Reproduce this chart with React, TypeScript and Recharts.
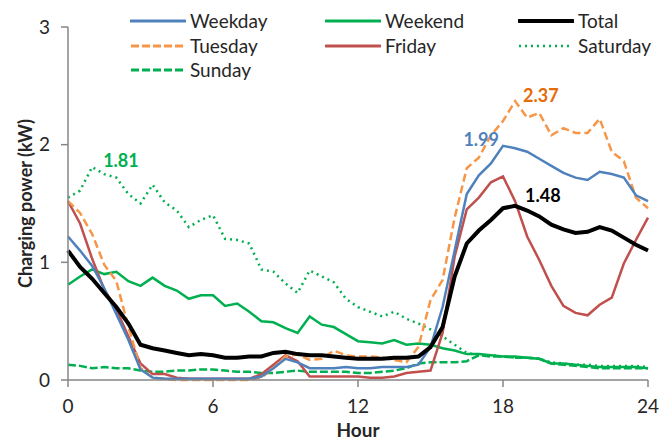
import { LineChart, Line, XAxis, YAxis, Label } from "recharts"

const FONT = "Lato, 'Liberation Sans', sans-serif"

// half-hour sampling across the day
const hours = [
  0, 0.5, 1, 1.5, 2, 2.5, 3, 3.5, 4, 4.5, 5, 5.5, 6, 6.5, 7, 7.5, 8, 8.5, 9, 9.5, 10, 10.5, 11, 11.5,
  12, 12.5, 13, 13.5, 14, 14.5, 15, 15.5, 16, 16.5, 17, 17.5, 18, 18.5, 19, 19.5, 20, 20.5, 21, 21.5,
  22, 22.5, 23, 23.5, 24,
]

const weekday = [
  1.22, 1.1, 0.97, 0.78, 0.56, 0.34, 0.09, 0.02, 0.01, 0.01, 0.01, 0.01, 0.01, 0.01, 0.01, 0.01, 0.03, 0.1, 0.18, 0.15, 0.1, 0.1, 0.1, 0.11,
  0.1, 0.1, 0.11, 0.11, 0.11, 0.13, 0.28, 0.62, 1.1, 1.58, 1.74, 1.84, 1.99, 1.97, 1.94, 1.88, 1.82, 1.76, 1.72, 1.7,
  1.77, 1.75, 1.72, 1.57, 1.52,
]

const tuesday = [
  1.52, 1.42, 1.24, 0.98, 0.84, 0.45, 0.1, 0.02, 0.01, 0, 0, 0, 0, 0, 0, 0, 0.02, 0.1, 0.2, 0.22, 0.17, 0.18, 0.25, 0.21,
  0.2, 0.2, 0.19, 0.17, 0.15, 0.28, 0.68, 0.85, 1.38, 1.8, 1.89, 2.08, 2.2, 2.37, 2.23, 2.27, 2.08, 2.14, 2.1, 2.1,
  2.22, 1.94, 1.86, 1.55, 1.46,
]

const friday = [
  1.52, 1.33, 1.03, 0.77, 0.6, 0.37, 0.14, 0.05, 0.05, 0.02, 0.01, 0.01, 0.01, 0.01, 0.01, 0.01, 0.05, 0.13, 0.21, 0.16, 0.03, 0.03, 0.03, 0.03,
  0.03, 0.02, 0.02, 0.03, 0.06, 0.07, 0.08, 0.4, 1.05, 1.45, 1.55, 1.68, 1.73, 1.52, 1.22, 1.02, 0.8, 0.63, 0.57, 0.55,
  0.64, 0.7, 0.99, 1.19, 1.38,
]

const total = [
  1.1, 0.96, 0.86, 0.74, 0.62, 0.48, 0.3, 0.27, 0.25, 0.23, 0.21, 0.22, 0.21, 0.19, 0.19, 0.2, 0.2, 0.23, 0.24, 0.22, 0.21, 0.21, 0.2, 0.19,
  0.18, 0.18, 0.18, 0.19, 0.19, 0.2, 0.28, 0.45, 0.88, 1.16, 1.27, 1.36, 1.46, 1.48, 1.44, 1.39, 1.32, 1.28, 1.25, 1.26,
  1.3, 1.27, 1.21, 1.15, 1.1,
]

const weekend = [
  0.81, 0.88, 0.94, 0.9, 0.92, 0.84, 0.8, 0.87, 0.8, 0.76, 0.69, 0.72, 0.72, 0.63, 0.65, 0.58, 0.5, 0.49, 0.44, 0.4, 0.54, 0.47, 0.45, 0.39,
  0.33, 0.32, 0.31, 0.34, 0.3, 0.31, 0.3, 0.27, 0.25, 0.22, 0.22, 0.21, 0.2, 0.2, 0.19, 0.18, 0.14, 0.14, 0.13, 0.12,
  0.11, 0.11, 0.11, 0.11, 0.1,
]

const saturday = [
  1.55, 1.61, 1.81, 1.75, 1.72, 1.58, 1.5, 1.66, 1.51, 1.44, 1.3, 1.36, 1.4, 1.2, 1.19, 1.16, 0.94, 0.92, 0.82, 0.74, 0.93, 0.88, 0.83, 0.69,
  0.62, 0.58, 0.54, 0.58, 0.52, 0.48, 0.43, 0.37, 0.3, 0.23, 0.21, 0.21, 0.2, 0.19, 0.19, 0.18, 0.15, 0.14, 0.13, 0.13,
  0.12, 0.12, 0.12, 0.12, 0.11,
]

const sunday = [
  0.13, 0.12, 0.1, 0.11, 0.1, 0.1, 0.08, 0.07, 0.07, 0.08, 0.08, 0.09, 0.09, 0.08, 0.07, 0.07, 0.06, 0.06, 0.07, 0.08, 0.07, 0.07, 0.07, 0.07,
  0.06, 0.06, 0.07, 0.08, 0.1, 0.14, 0.15, 0.15, 0.15, 0.16, 0.21, 0.2, 0.2, 0.19, 0.19, 0.18, 0.14, 0.13, 0.12, 0.11,
  0.1, 0.1, 0.1, 0.1, 0.1,
]

const xTicks = [0, 6, 12, 18, 24]
const yTicks = [0, 1, 2, 3]

const data = hours.map((hour, i) => ({
  hour,
  weekday: weekday[i],
  tuesday: tuesday[i],
  friday: friday[i],
  total: total[i],
  weekend: weekend[i],
  saturday: saturday[i],
  sunday: sunday[i],
}))

const BLUE = "#4F81BD"
const ORANGE = "#F79646"
const RED = "#C0504D"
const GREEN = "#00B050"
const AXIS = "#868686"
const TEXT = "#262626"

const peakIndex = (arr: number[]) => arr.indexOf(Math.max(...arr))

// renders a bold value label next to the series maximum only
function peakLabel(arr: number[], color: string, dx: number, dy: number, anchor: "start" | "end") {
  const idx = peakIndex(arr)
  return (props: any) => {
    if (props.index !== idx) return <g />
    return (
      <text
        x={props.x + dx}
        y={props.y + dy}
        fill={color}
        fontFamily={FONT}
        fontWeight={700}
        fontSize={18}
        textAnchor={anchor}
        dominantBaseline="central"
      >
        {Number(props.value).toFixed(2)}
      </text>
    )
  }
}

const legendItems = [
  { name: "Weekday", color: BLUE, width: 3, dash: undefined, x: 130, y: 21 },
  { name: "Weekend", color: GREEN, width: 3, dash: undefined, x: 325, y: 21 },
  { name: "Total", color: "#000", width: 4, dash: undefined, x: 518, y: 21 },
  { name: "Tuesday", color: ORANGE, width: 3, dash: "8 3", x: 130, y: 46 },
  { name: "Friday", color: RED, width: 3, dash: undefined, x: 325, y: 46 },
  { name: "Saturday", color: GREEN, width: 2.5, dash: "2 4", x: 518, y: 46 },
  { name: "Sunday", color: GREEN, width: 3, dash: "8 3", x: 130, y: 70 },
]

function ChartLegend() {
  return (
    <div style={{ position: "absolute", left: 0, top: 0, width: 659, height: 90, pointerEvents: "none" }}>
      {legendItems.map((it) => (
        <div
          key={it.name}
          style={{ position: "absolute", left: it.x, top: it.y - 12, height: 24, display: "flex", alignItems: "center" }}
        >
          <svg width={56} height={24}>
            <line x1={1} y1={12} x2={55} y2={12} stroke={it.color} strokeWidth={it.width} strokeDasharray={it.dash} strokeLinecap={it.dash ? "butt" : "round"} />
          </svg>
          <span style={{ marginLeft: 4, fontFamily: FONT, fontSize: 19, color: TEXT, lineHeight: "24px" }}>{it.name}</span>
        </div>
      ))}
    </div>
  )
}

export default function App() {
  return (
    <div style={{ position: "absolute", left: 0, top: 0, width: 659, height: 441, background: "#fff" }}>
      <LineChart width={659} height={441} data={data} margin={{ top: 27, right: 11, bottom: 1, left: 0 }}>
        <XAxis
          dataKey="hour"
          type="number"
          domain={[0, 24]}
          ticks={xTicks}
          stroke={AXIS}
          strokeWidth={1.5}
          tickSize={7}
          tickMargin={13}
          height={60}
          tick={{ fill: TEXT, fontSize: 19, fontFamily: FONT }}
        >
          <Label
            content={(p: any) => (
              <text
                x={p.viewBox.x + p.viewBox.width / 2}
                y={p.viewBox.y + 57}
                textAnchor="middle"
                fill={TEXT}
                fontFamily={FONT}
                fontWeight={700}
                fontSize={19}
              >
                Hour
              </text>
            )}
          />
        </XAxis>
        <YAxis
          type="number"
          domain={[0, 3]}
          ticks={yTicks}
          stroke={AXIS}
          strokeWidth={1.5}
          tickSize={7}
          tickMargin={11}
          width={68}
          tick={{ fill: TEXT, fontSize: 19, fontFamily: FONT }}
        >
          <Label
            content={(p: any) => {
              const cx = 25
              const cy = p.viewBox.y + p.viewBox.height / 2
              return (
                <text
                  x={cx}
                  y={cy}
                  transform={`rotate(-90, ${cx}, ${cy})`}
                  textAnchor="middle"
                  dominantBaseline="central"
                  fill={TEXT}
                  fontFamily={FONT}
                  fontWeight={700}
                  fontSize={18}
                >
                  Charging power (kW)
                </text>
              )
            }}
          />
        </YAxis>
        <Line dataKey="sunday" stroke={GREEN} strokeWidth={2.5} strokeDasharray="8 3" dot={false} isAnimationActive={false} />
        <Line dataKey="weekend" stroke={GREEN} strokeWidth={2.5} dot={false} isAnimationActive={false} />
        <Line
          dataKey="saturday"
          stroke={GREEN}
          strokeWidth={2.5}
          strokeDasharray="2 4"
          dot={false}
          isAnimationActive={false}
          label={peakLabel(saturday, GREEN, 11, -7, "start")}
        />
        <Line
          dataKey="friday"
          stroke={RED}
          strokeWidth={2.5}
          dot={false}
          isAnimationActive={false}
        />
        <Line
          dataKey="tuesday"
          stroke={ORANGE}
          strokeWidth={2.5}
          strokeDasharray="8 4"
          dot={false}
          isAnimationActive={false}
          label={peakLabel(tuesday, "#E46C0A", 8, -6, "start")}
        />
        <Line
          dataKey="weekday"
          stroke={BLUE}
          strokeWidth={2.5}
          dot={false}
          isAnimationActive={false}
          label={peakLabel(weekday, BLUE, -4, -7, "end")}
        />
        <Line
          dataKey="total"
          stroke="#000"
          strokeWidth={4}
          dot={false}
          isAnimationActive={false}
          label={peakLabel(total, "#000", 10, -11, "start")}
        />
      </LineChart>
      <ChartLegend />
    </div>
  )
}
